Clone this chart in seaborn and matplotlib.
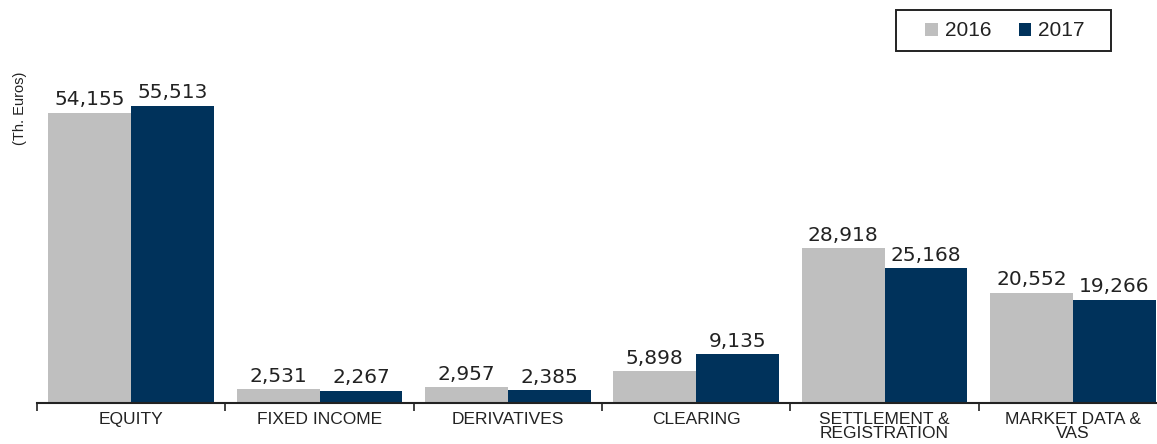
import matplotlib
matplotlib.use("Agg")
import matplotlib.pyplot as plt
import seaborn as sns
import pandas as pd
from matplotlib.patches import Patch, Rectangle
from matplotlib.ticker import FixedLocator

categories = ["EQUITY", "FIXED INCOME", "DERIVATIVES", "CLEARING",
              "SETTLEMENT &\nREGISTRATION", "MARKET DATA &\nVAS"]
values_2016 = [54155, 2531, 2957, 5898, 28918, 20552]
values_2017 = [55513, 2267, 2385, 9135, 25168, 19266]
years = ["2016", "2017"]
colors = {"2016": "#BFBFBF", "2017": "#00325B"}

df = pd.DataFrame({
    "category": categories * 2,
    "year": [years[0]] * len(categories) + [years[1]] * len(categories),
    "value": values_2016 + values_2017,
})

sns.set_style("white")
plt.rcParams["font.family"] = ["Liberation Sans", "DejaVu Sans"]

W, H = 1157, 444
fig = plt.figure(figsize=(W / 100, H / 100), dpi=100)
ax = fig.add_axes([37 / W, 41 / H, 1130 / W, 375 / H])

sns.barplot(data=df, x="category", y="value", hue="year", order=categories,
            hue_order=years, palette=colors, width=0.88, gap=0,
            saturation=1, ax=ax, legend=False, errorbar=None, linewidth=0)

for cont in ax.containers:
    ax.bar_label(cont, labels=[f"{v:,.0f}" for v in cont.datavalues],
                 padding=2.5, fontsize=14.5, family="DejaVu Sans", color="#222222")

ax.set_xlim(-0.5, len(categories) - 0.5)
ax.set_ylim(0, 70000)
ax.set_yticks([])
ax.set_xlabel("")
ax.set_ylabel("")
for s in ["top", "right", "left"]:
    ax.spines[s].set_visible(False)
ax.spines["bottom"].set_color("#222222")
ax.spines["bottom"].set_linewidth(1.5)

ax.tick_params(axis="x", which="major", bottom=False, length=0, pad=6.5,
               labelsize=12.5, labelcolor="#222222")
ax.xaxis.set_minor_locator(FixedLocator([i - 0.5 for i in range(len(categories) + 1)]))
ax.tick_params(axis="x", which="minor", bottom=True, length=6, width=1.2,
               color="#222222", direction="out")
for lbl in ax.get_xticklabels():
    lbl.set_linespacing(0.9)

fig.text(20 / W, 1 - 108 / H, "(Th. Euros)", rotation=90, ha="center",
         va="center", fontsize=10.5, color="#222222")

# legend frame
fig.patches.append(Rectangle((896 / W, 1 - 51 / H), 215 / W, 41 / H,
                             transform=fig.transFigure, facecolor="white",
                             edgecolor="#222222", linewidth=1.4, zorder=5))
handles = [Patch(facecolor=colors[y], edgecolor="none", label=y) for y in years]
leg = fig.legend(handles=handles, loc="center", ncol=2,
                 bbox_to_anchor=(1005 / W, 1 - 31 / H), frameon=False,
                 fontsize=15, handlelength=0.6, handleheight=0.6,
                 handletextpad=0.35, columnspacing=1.3, borderpad=0,
                 borderaxespad=0)
leg.set_zorder(6)
for t in leg.get_texts():
    t.set_color("#222222")

fig.savefig("out.png", dpi=100)
